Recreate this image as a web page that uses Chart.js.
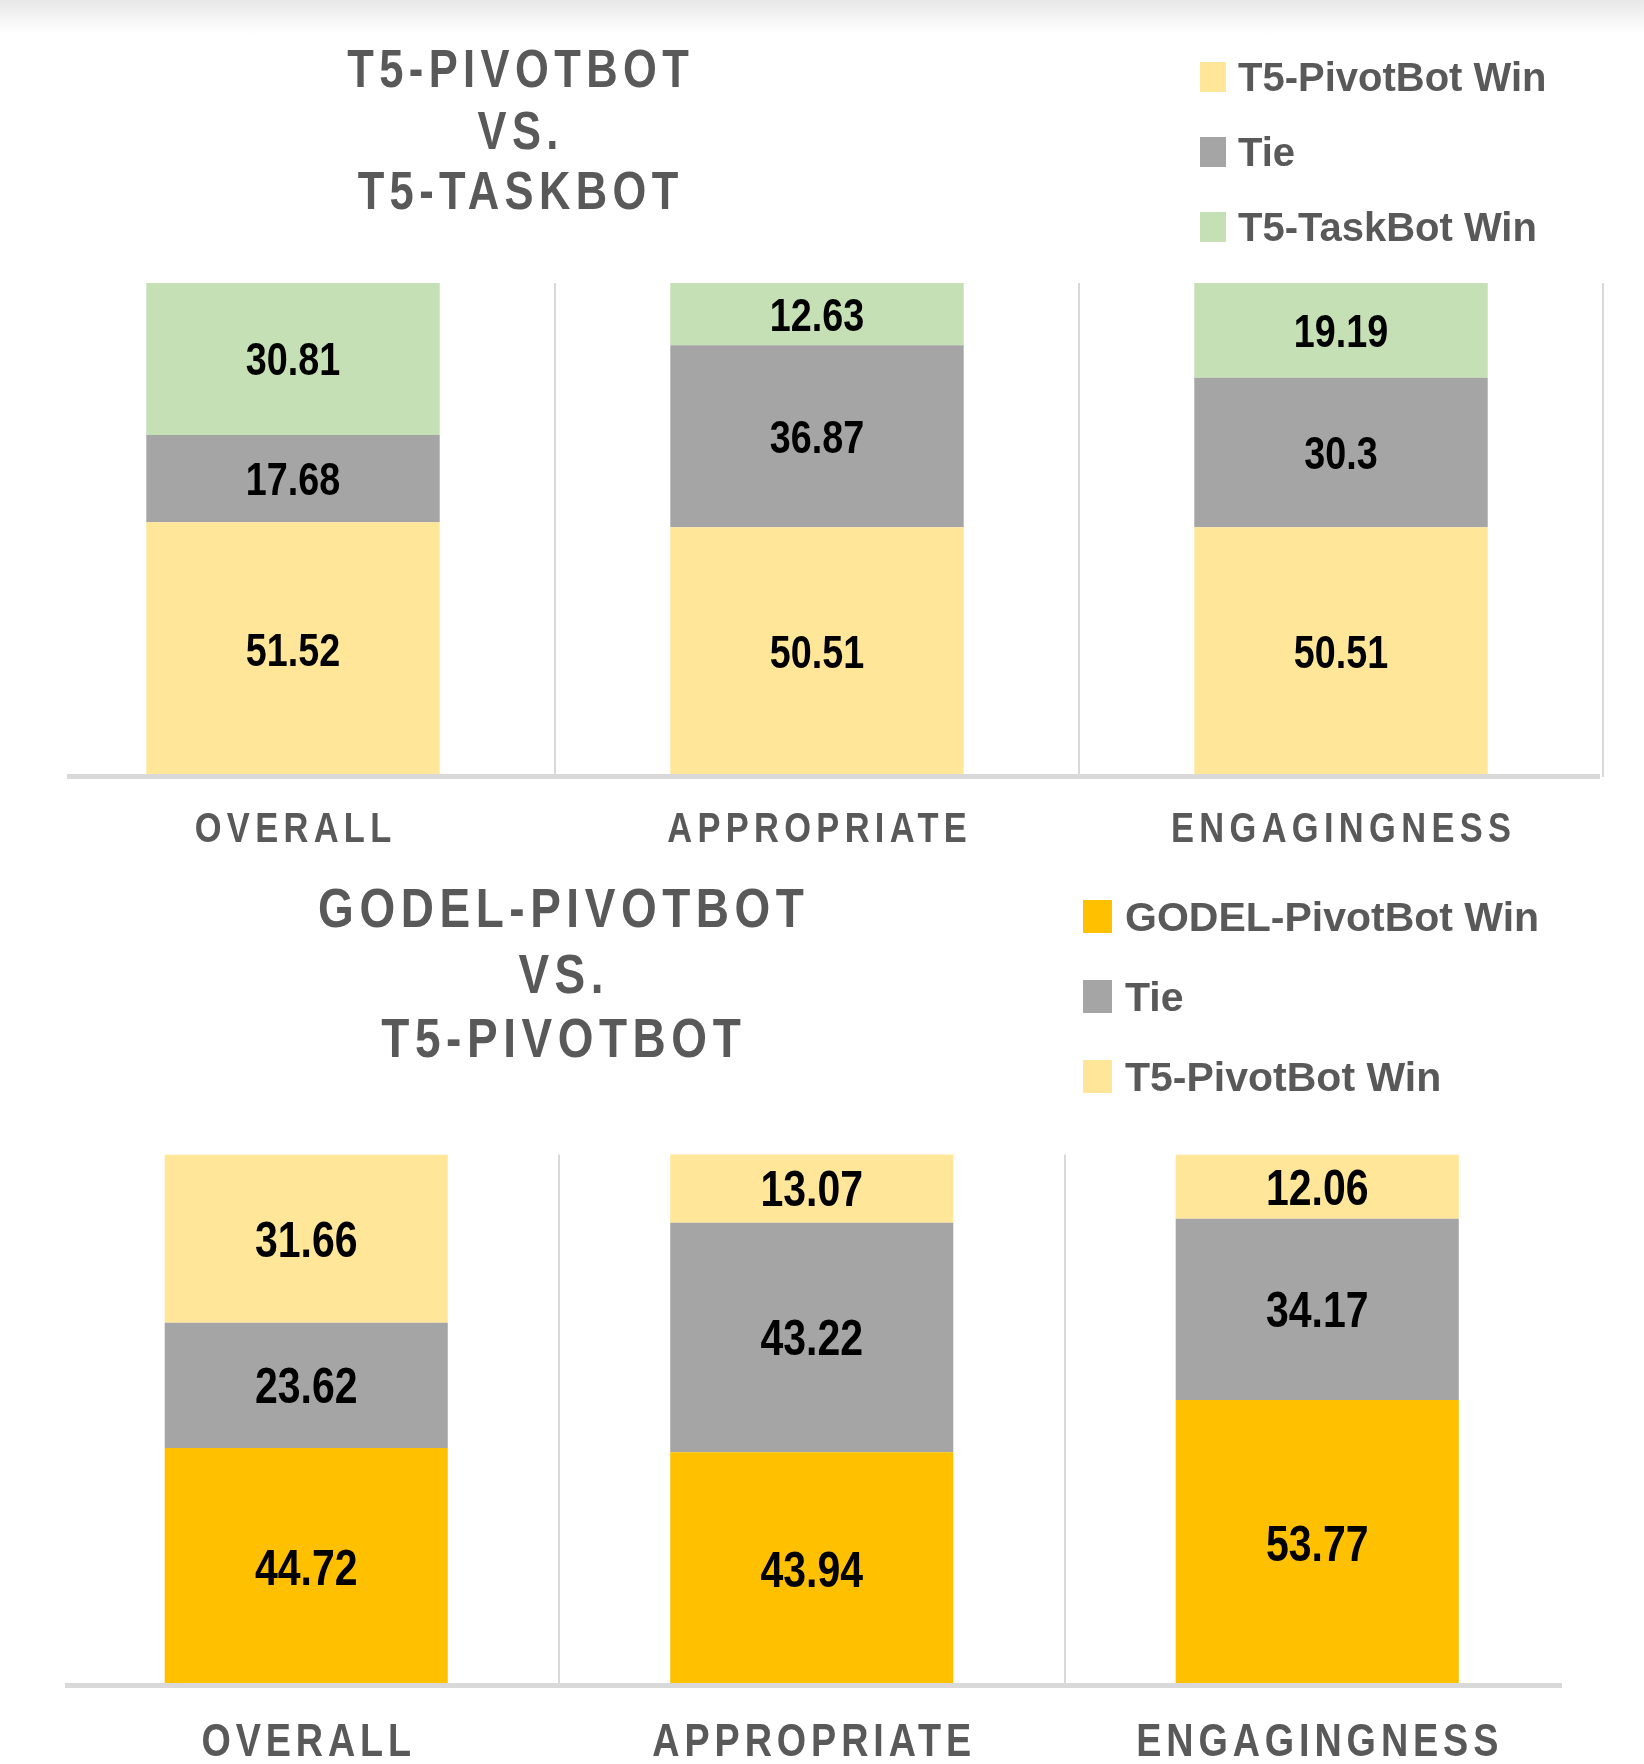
<!DOCTYPE html>
<html>
<head>
<meta charset="utf-8">
<script src="https://cdn.jsdelivr.net/npm/chart.js@4.4.1/dist/chart.umd.min.js"></script>
<style>
  html, body { margin: 0; padding: 0; background: #ffffff; }
  body { width: 1644px; height: 1764px; position: relative; overflow: hidden; }
  .shade { position: absolute; left: 0; top: 0; width: 1644px; height: 34px; background: linear-gradient(#e8e8e8, #ffffff); }
  .panel { position: absolute; left: 0; width: 1644px; }
</style>
</head>
<body>
<div class="shade"></div>
<div class="panel" style="top:0;height:860px"><canvas id="chartTop"></canvas></div>
<div class="panel" style="top:860px;height:904px"><canvas id="chartBottom"></canvas></div>
<script>
const categories = ['OVERALL', 'APPROPRIATE', 'ENGAGINGNESS'];

// T5-PivotBot vs. T5-TaskBot
const topPivotWin = [51.52, 50.51, 50.51];
const topTie = [17.68, 36.87, 30.3];
const topTaskWin = [30.81, 12.63, 19.19];

// GODEL-PivotBot vs. T5-PivotBot
const godelWin = [44.72, 43.94, 53.77];
const bottomTie = [23.62, 43.22, 34.17];
const bottomPivotWin = [31.66, 13.07, 12.06];

const colors = {
    lightYellow: '#FFE699',
    gray: '#A5A5A5',
    green: '#C5E0B4',
    gold: '#FFC000'
};
const textGray = '#595959';
const lineGray = '#D9D9D9';

// Use the narrow face if it is installed, otherwise squeeze the normal one
const hasNarrow = (function () {
    const c = document.createElement('canvas').getContext('2d');
    c.font = 'bold 100px "Liberation Sans Narrow", monospace';
    const a = c.measureText('OVERALL 0123').width;
    c.font = 'bold 100px monospace';
    const b = c.measureText('OVERALL 0123').width;
    return a !== b;
})();
const NARROW_FONT = '"Liberation Sans Narrow", "Liberation Sans", Arial, sans-serif';
const WIDE_FONT = '"Liberation Sans", Arial, sans-serif';

function drawLabel(ctx, text, x, cy, size, color, spacing, narrow, align) {
    ctx.save();
    ctx.font = 'bold ' + size + 'px ' + (narrow ? NARROW_FONT : WIDE_FONT);
    ctx.letterSpacing = '0px';
    const sx = (narrow && !hasNarrow) ? 0.82 : 1;
    const w = ctx.measureText(text).width + spacing * (text.length - 1);
    ctx.letterSpacing = spacing + 'px';
    ctx.fillStyle = color;
    ctx.textAlign = 'left';
    ctx.textBaseline = 'alphabetic';
    ctx.translate(x, cy + size * 0.358);
    ctx.scale(sx, 1);
    ctx.fillText(text, align === 'left' ? 0 : -w / 2, 0);
    ctx.restore();
}

// Axis line, titles, legend, category names and segment values
const overlayPlugin = {
    id: 'overlay',
    afterDatasetsDraw(chart, args, opts) {
        const ctx = chart.ctx;
        const y = chart.chartArea.bottom;
        ctx.save();
        ctx.strokeStyle = lineGray;
        ctx.lineWidth = 5;
        ctx.beginPath();
        ctx.moveTo(opts.axisLeft, y);
        ctx.lineTo(opts.axisRight, y);
        ctx.stroke();
        ctx.restore();
    },
    afterDraw(chart, args, opts) {
        const ctx = chart.ctx;

        opts.titleLines.forEach((line, i) => {
            drawLabel(ctx, line, opts.titleX, opts.titleY[i], opts.titleSize, textGray, opts.titleSpacing, true);
        });

        chart.data.datasets.forEach((ds, i) => {
            const cy = opts.legendY[i];
            ctx.fillStyle = ds.backgroundColor;
            ctx.fillRect(opts.legendX, cy - opts.boxH / 2, opts.boxW, opts.boxH);
            drawLabel(ctx, ds.label, opts.legendTextX, cy, opts.legendSize, textGray, 0, false, 'left');
        });

        const xScale = chart.scales.x;
        chart.data.labels.forEach((label, i) => {
            drawLabel(ctx, label, xScale.getPixelForValue(i), opts.catY, opts.catSize, textGray, opts.catSpacing, true);
        });

        chart.data.datasets.forEach((ds, di) => {
            chart.getDatasetMeta(di).data.forEach((bar, j) => {
                drawLabel(ctx, String(ds.data[j]), bar.x, (bar.y + bar.base) / 2, opts.valueSize, '#000000', 0, true);
            });
        });
    }
};

function makeChart(id, datasets, padding, gridColor, overlay) {
    return new Chart(document.getElementById(id), {
        type: 'bar',
        data: { labels: categories, datasets: datasets },
        options: {
            responsive: true,
            maintainAspectRatio: false,
            animation: false,
            layout: { padding: padding },
            datasets: {
                bar: { categoryPercentage: 1.0, barPercentage: 0.56, borderWidth: 0 }
            },
            scales: {
                x: {
                    stacked: true,
                    ticks: { display: false },
                    grid: { color: gridColor, lineWidth: 2, drawTicks: false },
                    border: { display: false }
                },
                y: { stacked: true, display: false, min: 0, max: 100 }
            },
            plugins: {
                legend: { display: false },
                title: { display: false },
                tooltip: { enabled: false },
                overlay: overlay
            }
        },
        plugins: [overlayPlugin]
    });
}

makeChart('chartTop', [
    { label: 'T5-PivotBot Win', data: topPivotWin, backgroundColor: colors.lightYellow },
    { label: 'Tie', data: topTie, backgroundColor: colors.gray },
    { label: 'T5-TaskBot Win', data: topTaskWin, backgroundColor: colors.green }
], { left: 31, right: 41, top: 283, bottom: 83.5 },
   ctx => ctx.index === 0 ? 'rgba(0,0,0,0)' : lineGray,
   {
       axisLeft: 67, axisRight: 1600,
       titleLines: ['T5-PIVOTBOT', 'VS.', 'T5-TASKBOT'],
       titleX: 518, titleY: [68, 130, 190.5], titleSize: 53, titleSpacing: 6.6,
       legendX: 1200, legendTextX: 1238, legendY: [77, 152, 227], boxW: 26, boxH: 30, legendSize: 40,
       catY: 827, catSize: 42, catSpacing: 6.5,
       valueSize: 46
   });

makeChart('chartBottom', [
    { label: 'GODEL-PivotBot Win', data: godelWin, backgroundColor: colors.gold },
    { label: 'Tie', data: bottomTie, backgroundColor: colors.gray },
    { label: 'T5-PivotBot Win', data: bottomPivotWin, backgroundColor: colors.lightYellow }
], { left: 53.5, right: 74, top: 294.6, bottom: 78.5 },
   ctx => (ctx.index === 1 || ctx.index === 2) ? lineGray : 'rgba(0,0,0,0)',
   {
       axisLeft: 65, axisRight: 1562,
       titleLines: ['GODEL-PIVOTBOT', 'VS.', 'T5-PIVOTBOT'],
       titleX: 561, titleY: [47, 112.5, 177], titleSize: 56, titleSpacing: 6.8,
       legendX: 1083, legendTextX: 1125, legendY: [56.5, 136.5, 216.5], boxW: 29, boxH: 33, legendSize: 41,
       catY: 880, catSize: 46, catSpacing: 6,
       valueSize: 50
   });
</script>
</body>
</html>
